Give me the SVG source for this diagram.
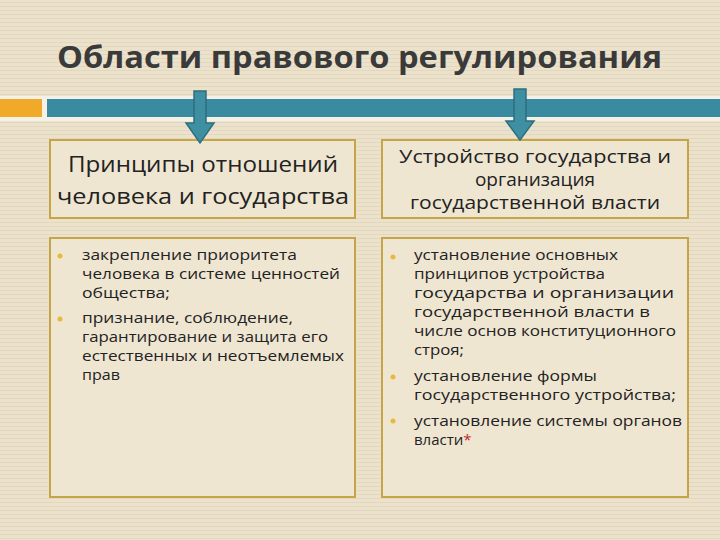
<svg xmlns="http://www.w3.org/2000/svg" width="720" height="540" viewBox="0 0 720 540">
<defs>
<pattern id="stripes" width="4" height="4" patternUnits="userSpaceOnUse">
<rect width="4" height="4" fill="#ece2cc"/><rect y="2" width="4" height="1" fill="#e2d7bf"/>
</pattern>
<style>
.box{fill:#efe6d2;stroke:#c5a548;stroke-width:2}
.hd{font-family:"Open Sans","Liberation Sans",sans-serif;fill:#222;text-anchor:middle}
.li{font-family:"Open Sans","Liberation Sans",sans-serif;fill:#222;font-size:15px}
.bul{fill:#e8b93a}
.arr{fill:#3f8fa3;stroke:#2c6f80;stroke-width:1.5}
</style>
</defs>
<rect width="720" height="540" fill="url(#stripes)"/>
<text x="57" y="68" font-family="'Open Sans','Liberation Sans',sans-serif" font-size="31" font-weight="bold" fill="#3a3a3a" textLength="605" lengthAdjust="spacingAndGlyphs">Области правового регулирования</text>
<rect x="0" y="96" width="720" height="25" fill="#f6f1e6"/>
<rect x="0" y="99" width="42" height="18" fill="#f0a929"/>
<rect x="47" y="99" width="673" height="18" fill="#3b8ba0"/>
<g id="header-left"><rect class="box" x="50" y="140" width="305" height="78"/>
<text class="hd" font-size="22" x="203" y="172" textLength="270" lengthAdjust="spacingAndGlyphs">Принципы отношений</text>
<text class="hd" font-size="22" x="203" y="204" textLength="292" lengthAdjust="spacingAndGlyphs">человека и государства</text></g>
<g id="header-right"><rect class="box" x="382" y="140" width="306" height="78"/>
<text class="hd" font-size="19" x="535" y="163" textLength="272" lengthAdjust="spacingAndGlyphs">Устройство государства и</text>
<text class="hd" font-size="19" x="535" y="186">организация</text>
<text class="hd" font-size="19" x="535" y="209" textLength="250" lengthAdjust="spacingAndGlyphs">государственной власти</text></g>
<g id="list-left"><rect class="box" x="50" y="238" width="305" height="259"/>
<circle class="bul" cx="60" cy="256" r="2.5"/><circle class="bul" cx="60" cy="319" r="2.5"/>
<text class="li" x="82" y="260" textLength="215" lengthAdjust="spacingAndGlyphs">закрепление приоритета</text>
<text class="li" x="82" y="279" textLength="258" lengthAdjust="spacingAndGlyphs">человека в системе ценностей</text>
<text class="li" x="82" y="298" textLength="88" lengthAdjust="spacingAndGlyphs">общества;</text>
<text class="li" x="82" y="323" textLength="211" lengthAdjust="spacingAndGlyphs">признание, соблюдение,</text>
<text class="li" x="82" y="342" textLength="246" lengthAdjust="spacingAndGlyphs">гарантирование и защита его</text>
<text class="li" x="82" y="361" textLength="262" lengthAdjust="spacingAndGlyphs">естественных и неотъемлемых</text>
<text class="li" x="82" y="380" textLength="38" lengthAdjust="spacingAndGlyphs">прав</text></g>
<g id="list-right"><rect class="box" x="382" y="238" width="306" height="259"/>
<circle class="bul" cx="393" cy="257" r="2.5"/><circle class="bul" cx="393" cy="377" r="2.5"/><circle class="bul" cx="393" cy="421" r="2.5"/>
<text class="li" x="414" y="260" textLength="204" lengthAdjust="spacingAndGlyphs">установление основных</text>
<text class="li" x="414" y="279" textLength="191" lengthAdjust="spacingAndGlyphs">принципов устройства</text>
<text class="li" x="414" y="298" textLength="260" lengthAdjust="spacingAndGlyphs">государства и организации</text>
<text class="li" x="414" y="317" textLength="236" lengthAdjust="spacingAndGlyphs">государственной власти в</text>
<text class="li" x="414" y="336" textLength="262" lengthAdjust="spacingAndGlyphs">числе основ конституционного</text>
<text class="li" x="414" y="355" textLength="50" lengthAdjust="spacingAndGlyphs">строя;</text>
<text class="li" x="414" y="381" textLength="183" lengthAdjust="spacingAndGlyphs">установление формы</text>
<text class="li" x="414" y="400" textLength="262" lengthAdjust="spacingAndGlyphs">государственного устройства;</text>
<text class="li" x="414" y="426" textLength="268" lengthAdjust="spacingAndGlyphs">установление системы органов</text>
<text class="li" x="414" y="445">власти<tspan fill="#c0282d">*</tspan></text></g>
<g id="connectors">
<path class="arr" d="M194,91 H206 V123 H214 L200,143 L186,123 H194 Z"/>
<path class="arr" d="M514,89 H526 V121 H534 L520,140 L506,121 H514 Z"/>
</g>
</svg>
